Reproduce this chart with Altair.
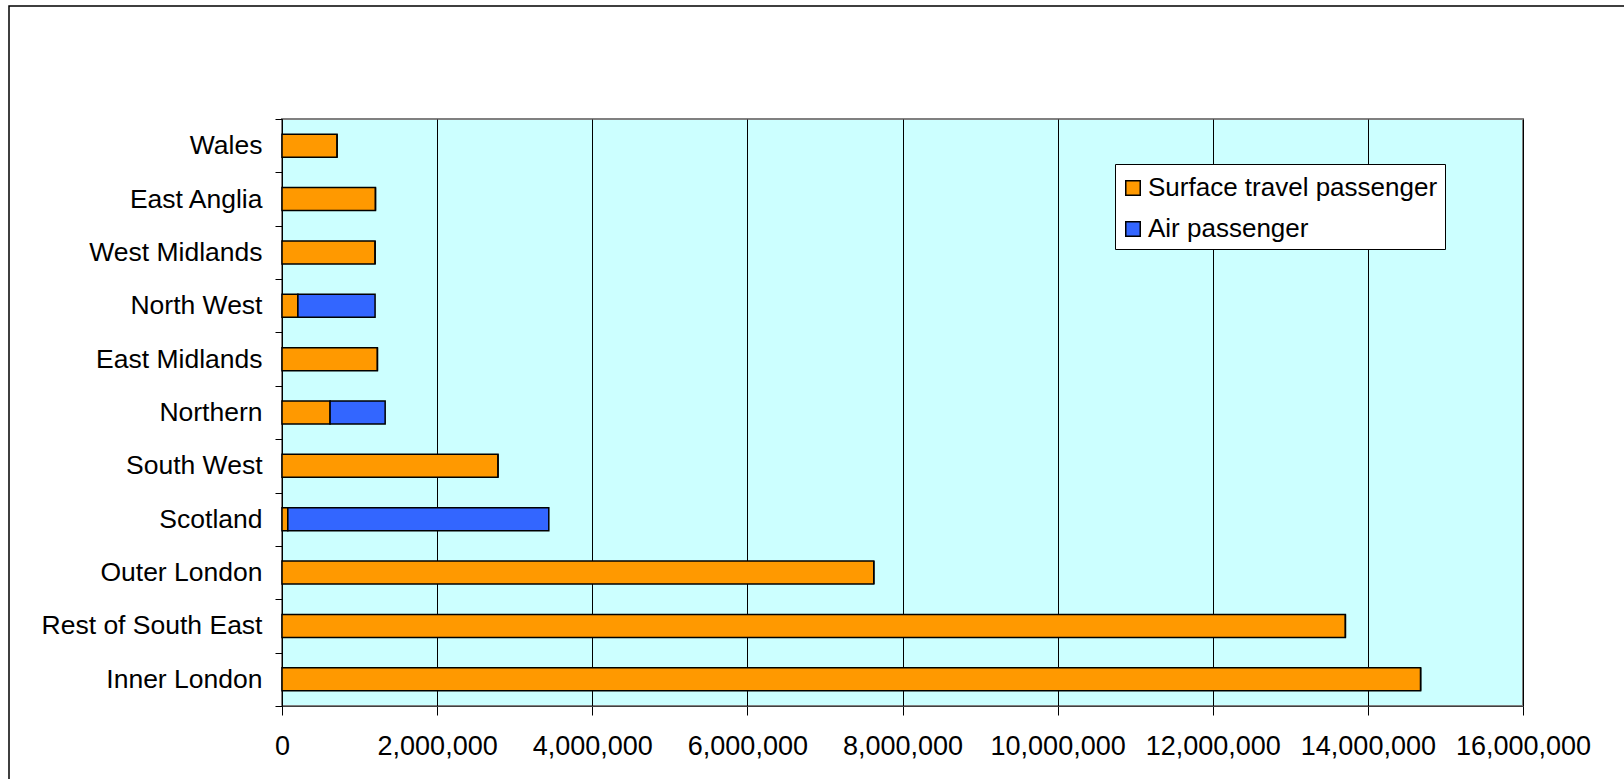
import altair as alt
import pandas as pd

# Regions, bottom to top as drawn
regions = [
    "Inner London", "Rest of South East", "Outer London", "Scotland",
    "South West", "Northern", "East Midlands", "North West",
    "West Midlands", "East Anglia", "Wales",
]
surface = [14680000, 13710000, 7630000, 75000, 2785000, 620000,
           1230000, 205000, 1200000, 1205000, 710000]
air = [0, 0, 0, 3365000, 0, 710000, 0, 995000, 0, 0, 0]

series = ["Surface travel passenger", "Air passenger"]
colors = ["#FF9900", "#3366FF"]
x_ticks = [0, 2000000, 4000000, 6000000, 8000000, 10000000,
           12000000, 14000000, 16000000]

rows = []
for r, s, a in zip(regions, surface, air):
    rows.append({"region": r, "type": series[0], "value": s, "order": 0})
    rows.append({"region": r, "type": series[1], "value": a, "order": 1})
df = pd.DataFrame(rows)

FONT = "Liberation Sans"
W, H = 1241, 587
PAD_L, PAD_T = 282, 119

bars = alt.Chart(df).mark_bar(
    size=23, stroke="black", strokeWidth=1.5
).encode(
    y=alt.Y(
        "region:N",
        sort=regions[::-1],
        scale=alt.Scale(paddingInner=0, paddingOuter=0),
        axis=alt.Axis(
            title=None, tickBand="extent", tickSize=7, tickColor="black",
            domainColor="black", labelFontSize=26.5, labelFont=FONT,
            labelColor="black", labelPadding=13, labelLimit=400,
            grid=False,
        ),
    ),
    x=alt.X(
        "value:Q",
        stack="zero",
        scale=alt.Scale(domain=[0, 16000000], nice=False),
        axis=alt.Axis(
            title=None, values=x_ticks, format=",d", tickSize=9,
            tickColor="black", domainColor="#404040", labelFontSize=27,
            labelFont=FONT, labelColor="black", labelPadding=18,
            grid=True, gridColor="black", gridWidth=1, gridOpacity=1,
            labelFlush=False,
        ),
    ),
    color=alt.Color(
        "type:N",
        sort=series,
        scale=alt.Scale(domain=series, range=colors),
        legend=alt.Legend(
            title=" ", titleFontSize=1, titlePadding=3,
            orient="none", legendX=833, legendY=45,
            symbolType="square", symbolSize=210, symbolOffset=-2,
            symbolStrokeColor="black", symbolStrokeWidth=1.5,
            symbolOpacity=1,
            labelFontSize=26, labelFont=FONT, labelColor="black",
            labelOffset=2, labelLimit=500, rowPadding=15,
            padding=7, fillColor="white", strokeColor="black",
        ),
    ),
    order=alt.Order("order:Q"),
)

# Outer frame around the whole figure
frame = alt.Chart(pd.DataFrame({"f": [0]})).mark_rect(
    fill=None, stroke="black", strokeWidth=1.5, clip=False
).encode(
    x=alt.value(9 - PAD_L),
    x2=alt.value(1660 - PAD_L),
    y=alt.value(6 - PAD_T),
    y2=alt.value(820 - PAD_T),
)

chart = alt.layer(frame, bars).properties(
    width=W,
    height=H,
    autosize=alt.AutoSizeParams(type="none"),
    padding={"left": PAD_L, "top": PAD_T, "right": 1624 - PAD_L - W,
             "bottom": 779 - PAD_T - H},
    background="white",
).configure_view(
    fill="#CCFFFF", stroke="#808080", strokeWidth=2
)

chart.save("out.html", embed_options={"renderer": "svg", "actions": False})
